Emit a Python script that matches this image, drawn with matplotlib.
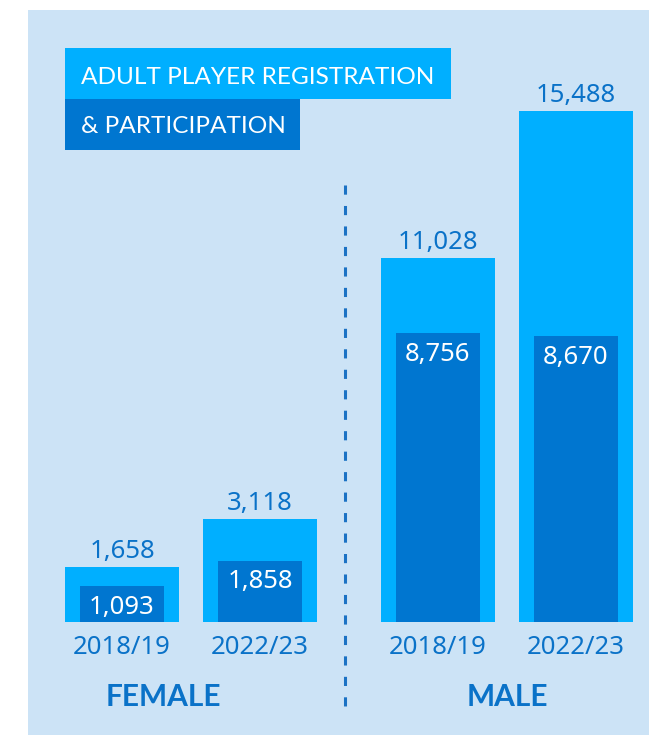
import matplotlib.pyplot as plt
from matplotlib.patches import Rectangle

# data
groups = ['FEMALE', 'MALE']
seasons = ['2018/19', '2022/23']
registered = [1658, 3118, 11028, 15488]
participating = [1093, 1858, 8756, 8670]
title_lines = ['ADULT PLAYER REGISTRATION', '& PARTICIPATION']

# colours
BG = '#CCE3F6'
LIGHT = '#00AFFF'
DARK = '#0076D0'
TXT = '#0A72C8'

W, H = 649, 735
fig = plt.figure(figsize=(W / 100, H / 100), dpi=100)
fig.patch.set_facecolor('white')

# background layer in pixel coordinates (y downwards)
bg = fig.add_axes([0, 0, 1, 1])
bg.set_xlim(0, W)
bg.set_ylim(H, 0)
bg.axis('off')
bg.add_patch(Rectangle((28, 10), W - 28, H - 10, color=BG, lw=0))

# title boxes
bg.add_patch(Rectangle((65, 48), 386, 51, color=LIGHT, lw=0))
bg.add_patch(Rectangle((65, 99), 235, 51, color=DARK, lw=0))
bg.text(81, 84, title_lines[0], color='white', fontsize=17.6, family='Lato',
        va='baseline', ha='left')
bg.text(81, 133, title_lines[1], color='white', fontsize=17.6, family='Lato',
        va='baseline', ha='left')

# divider
bg.plot([345, 345], [185, 707], color='#1B72C4', lw=2.2,
        linestyle=(0, (3, 3.7)), solid_capstyle='butt', dash_capstyle='butt')

# group labels
bg.text(163, 706, groups[0], color=TXT, fontsize=21.5, family='Lato',
        fontweight='bold', ha='center', va='baseline')
bg.text(507, 706, groups[1], color=TXT, fontsize=21.5, family='Lato',
        fontweight='bold', ha='center', va='baseline')

# bar layer: x in pixels, y in data units
base_px = 622
k = 15488 / 511  # value per pixel
ax = fig.add_axes([0, 0, 1, 1])
ax.patch.set_alpha(0)
ax.set_xlim(0, W)
ax.set_ylim(-(H - base_px) * k, base_px * k)
ax.axis('off')

xs = []
for g in range(len(groups)):
    for s in range(len(seasons)):
        xs.append(122 + g * 316 + s * 138)

ax.bar(xs, registered, width=114, color=LIGHT, lw=0)
ax.bar(xs, participating, width=84, color=DARK, lw=0)

for i, x in enumerate(xs):
    ax.annotate(f'{registered[i]:,}', (x, registered[i]), xytext=(0, 6.5),
                textcoords='offset points', ha='center', va='baseline',
                color=TXT, fontsize=18.5, family='Noto Sans')
    ax.annotate(f'{participating[i]:,}', (x, participating[i]), xytext=(0, -20),
                textcoords='offset points', ha='center', va='baseline',
                color='white', fontsize=18.5, family='Noto Sans')
    ax.annotate(seasons[i % 2], (x, 0), xytext=(0, -23),
                textcoords='offset points', ha='center', va='baseline',
                color=TXT, fontsize=18.5, family='Noto Sans')

fig.savefig('out.png', dpi=100)
